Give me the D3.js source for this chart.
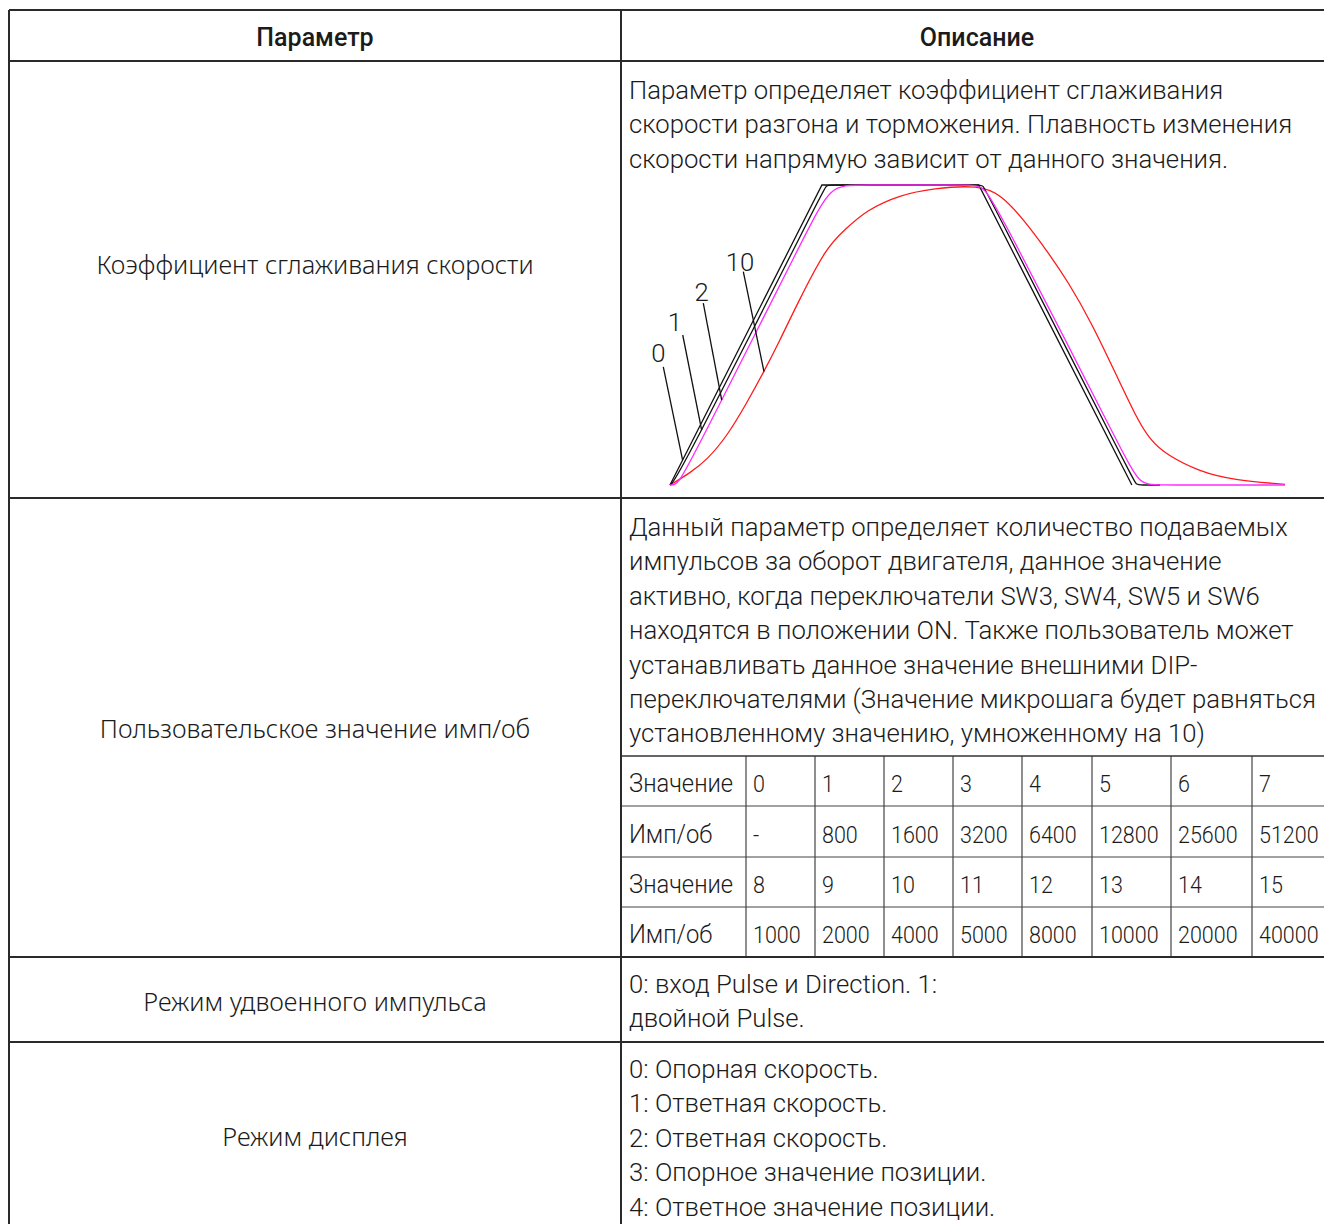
<!DOCTYPE html>
<html>
<head>
<meta charset="utf-8">
<script src="https://cdn.jsdelivr.net/npm/d3@7"></script>
<style>
  body { margin: 0; background: #fff; }
  text { fill: #1b1b1b; }
  .desc, .cell, .curve-label { font-family: Roboto, sans-serif; font-weight: 300; font-size: 25.7px; }
  .cell { font-size: 25px; }
  .cell.num { font-size: 23px; }
  .param { font-family: "Noto Sans", sans-serif; font-weight: 300; font-size: 25.3px; }
  .head { font-family: Roboto, sans-serif; font-weight: 500; font-size: 25px; }
</style>
</head>
<body>
<svg class="visuals" width="1324" height="1224"></svg>
<script>
var headers = ['Параметр', 'Описание'];
var params = [
  'Коэффициент сглаживания скорости',
  'Пользовательское значение имп/об',
  'Режим удвоенного импульса',
  'Режим дисплея'
];
var descriptions = [
  ['Параметр определяет коэффициент сглаживания',
   'скорости разгона и торможения. Плавность изменения',
   'скорости напрямую зависит от данного значения.'],
  ['Данный параметр определяет количество подаваемых',
   'импульсов за оборот двигателя, данное значение',
   'активно, когда переключатели SW3, SW4, SW5 и SW6',
   'находятся в положении ON. Также пользователь может',
   'устанавливать данное значение внешними DIP-',
   'переключателями (Значение микрошага будет равняться',
   'установленному значению, умноженному на 10)'],
  ['0: вход Pulse и Direction. 1:',
   'двойной Pulse.'],
  ['0: Опорная скорость.',
   '1: Ответная скорость.',
   '2: Ответная скорость.',
   '3: Опорное значение позиции.',
   '4: Ответное значение позиции.']
];
var stepRows = [
  ['Значение', '0', '1', '2', '3', '4', '5', '6', '7'],
  ['Имп/об', '-', '800', '1600', '3200', '6400', '12800', '25600', '51200'],
  ['Значение', '8', '9', '10', '11', '12', '13', '14', '15'],
  ['Имп/об', '1000', '2000', '4000', '5000', '8000', '10000', '20000', '40000']
];

// speed curves, time 0..100 / speed 0..1
var curve0 = [[0, 0], [24.7, 1], [50.2, 1], [75.1, 0]];
// control points (smoothed with basis)
var curve1 = [[0, 0], [1.27, 0.023], [24.73, 0.973], [25.4, 1], [26.2, 1], [50.2, 1], [50.9, 1],
  [51.57, 0.973], [75.23, 0.023], [75.8, 0], [76.6, 0], [79.7, 0]];
var curve2 = [[0, 0], [1.3, 0], [3.9, 0.1], [22.4, 0.85], [26.1, 1], [30.5, 1], [48.1, 1], [50.6, 1],
  [52.7, 0.95], [73.8, 0.1], [76.4, 0], [79.4, 0], [100, 0]];
// traced points
var curve10 = [[0, 0], [3.25, 0.04], [5.97, 0.083], [9.22, 0.161], [12.47, 0.273], [15.28, 0.378],
  [17.89, 0.483], [20.6, 0.6], [25.45, 0.794], [28.37, 0.85], [31.98, 0.917], [37.4, 0.967],
  [42.76, 0.989], [50.24, 1], [53.92, 0.967], [57.56, 0.883], [61.22, 0.783], [64.88, 0.673],
  [68.54, 0.54], [72.2, 0.383], [75.77, 0.227], [78.05, 0.15], [80.76, 0.1], [86.18, 0.044],
  [91.54, 0.017], [100, 0.002]];
var curveLabels = ['0', '1', '2', '10'];
var labelAt = [[-1.9, 0.44], [0.81, 0.544], [5.15, 0.644], [11.38, 0.744]];
var leaderFrom = [[-1.09, 0.394], [2.07, 0.5], [5.41, 0.606], [11.92, 0.711]];
var leaderTo = [[2.05, 0.083], [5.15, 0.183], [8.41, 0.283], [15.28, 0.378]];

var ParamTable = (function(){
  return function(selector){
    var svg = d3.select(selector);
    var left = 9, mid = 621, right = 1333;
    var rowLines = [10, 61, 498, 957, 1042, 1240];
    var subRows = [756, 806, 857, 907, 957];
    var subCols = [621, 746, 815, 884, 953, 1022, 1092, 1171, 1252, 1333];
    var lineH = 34.4;
    var descTop = [99, 536, 993, 1078];
    var paramY = [274, 738, 1011, 1146];

    var drawGrid = function(){
      var g = svg.append('g');
      g.selectAll('line.sub-h')
        .data(subRows.slice(1, 4))
      .enter().append('line')
        .attr('x1', mid).attr('x2', right)
        .attr('y1', function(d){ return d; }).attr('y2', function(d){ return d; })
        .style('stroke', '#444').style('stroke-width', '1.2px');
      g.selectAll('line.sub-v')
        .data(subCols.slice(1, -1))
      .enter().append('line')
        .attr('x1', function(d){ return d; }).attr('x2', function(d){ return d; })
        .attr('y1', subRows[0]).attr('y2', subRows[4])
        .style('stroke', '#444').style('stroke-width', '1.2px');
      g.append('line')
        .attr('x1', mid).attr('x2', right).attr('y1', subRows[0]).attr('y2', subRows[0])
        .style('stroke', '#333').style('stroke-width', '1.5px');

      g.selectAll('line.row')
        .data(rowLines)
      .enter().append('line')
        .attr('x1', left).attr('x2', right)
        .attr('y1', function(d){ return d; }).attr('y2', function(d){ return d; })
        .style('stroke', '#2a2a2a').style('stroke-width', '2px');
      g.selectAll('line.col')
        .data([left, mid])
      .enter().append('line')
        .attr('x1', function(d){ return d; }).attr('x2', function(d){ return d; })
        .attr('y1', rowLines[0]).attr('y2', 1240)
        .style('stroke', '#2a2a2a').style('stroke-width', '2px');
    };

    var drawText = function(){
      svg.selectAll('text.head')
        .data(headers)
      .enter().append('text')
        .attr('class', 'head')
        .attr('x', function(d, i){ return i ? 977 : 315; })
        .attr('y', 46)
        .attr('text-anchor', 'middle')
        .text(function(d){ return d; });

      svg.selectAll('text.param')
        .data(params)
      .enter().append('text')
        .attr('class', 'param')
        .attr('x', 315)
        .attr('y', function(d, i){ return paramY[i]; })
        .attr('text-anchor', 'middle')
        .text(function(d){ return d; });

      descriptions.forEach(function(lines, i){
        svg.selectAll('text.desc' + i)
          .data(lines)
        .enter().append('text')
          .attr('class', 'desc')
          .attr('x', 629)
          .attr('y', function(d, j){ return descTop[i] + j * lineH; })
          .text(function(d){ return d; });
      });

      stepRows.forEach(function(row, r){
        svg.selectAll('text.cell' + r)
          .data(row)
        .enter().append('text')
          .attr('class', function(d, c){ return c ? 'cell num' : 'cell'; })
          .attr('x', function(d, c){ return subCols[c] + (c ? 7 : 8); })
          .attr('y', (subRows[r] + subRows[r + 1]) / 2 + 11)
          .text(function(d){ return d; })
          .each(function(d, c){
            // the original digits are narrow, squeeze a bit
            var w = this.getComputedTextLength();
            d3.select(this)
              .attr('textLength', w * (c ? 0.935 : 0.95))
              .attr('lengthAdjust', 'spacingAndGlyphs');
          });
      });
    };

    var drawCurves = function(){
      var x = d3.scaleLinear().domain([0, 100]).range([670, 1285]);
      var y = d3.scaleLinear().domain([0, 1]).range([485, 185]);
      var g = svg.append('g');
      var mk = function(curve){
        return d3.line()
          .x(function(d){ return x(d[0]); })
          .y(function(d){ return y(d[1]); })
          .curve(curve);
      };

      g.append('path').datum(curve10)
        .attr('d', mk(d3.curveBasis))
        .style('fill', 'none').style('stroke', '#ff1a1a').style('stroke-width', '1.3px');
      g.append('path').datum(curve0)
        .attr('d', mk(d3.curveLinear))
        .style('fill', 'none').style('stroke', '#111').style('stroke-width', '1.3px');
      g.append('path').datum(curve1)
        .attr('d', mk(d3.curveBasis))
        .style('fill', 'none').style('stroke', '#111').style('stroke-width', '1.3px');
      g.append('path').datum(curve2)
        .attr('d', mk(d3.curveBasis))
        .style('fill', 'none').style('stroke', '#ff2bff').style('stroke-width', '1.3px');

      g.selectAll('line.leader')
        .data(curveLabels)
      .enter().append('line')
        .attr('x1', function(d, i){ return x(leaderFrom[i][0]); })
        .attr('y1', function(d, i){ return y(leaderFrom[i][1]); })
        .attr('x2', function(d, i){ return x(leaderTo[i][0]); })
        .attr('y2', function(d, i){ return y(leaderTo[i][1]); })
        .style('stroke', '#111').style('stroke-width', '1.3px');

      g.selectAll('text.curve-label')
        .data(curveLabels)
      .enter().append('text')
        .attr('class', 'curve-label')
        .attr('x', function(d, i){ return x(labelAt[i][0]); })
        .attr('y', function(d, i){ return y(labelAt[i][1]) + 9; })
        .attr('text-anchor', 'middle')
        .text(function(d){ return d; });
    };

    drawGrid();
    drawCurves();
    drawText();
  };
}());

document.addEventListener('DOMContentLoaded', function () {
  var table = new ParamTable('.visuals');
});
</script>
</body>
</html>
